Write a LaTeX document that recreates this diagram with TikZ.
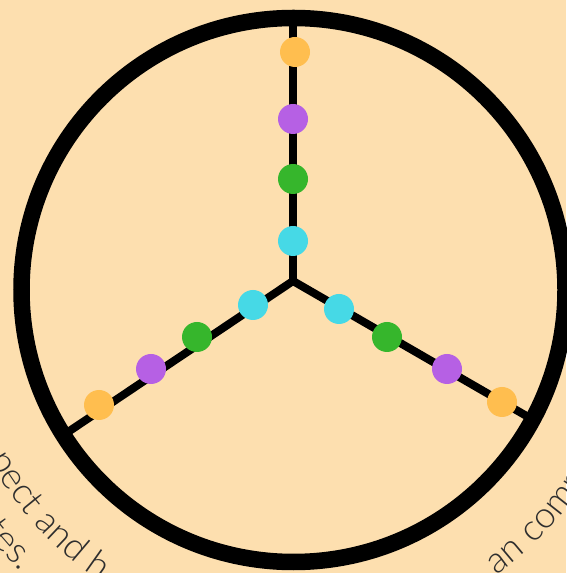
\documentclass[tikz,border=0pt]{standalone}
\usepackage{fontspec}
\usetikzlibrary{decorations.text}
\newfontfamily\labelfont{Lato-Light.ttf}
\definecolor{bgc}{HTML}{FDDFAF}
\definecolor{dorange}{HTML}{FFBE4F}
\definecolor{dpurple}{HTML}{B660E4}
\definecolor{dgreen}{HTML}{36B62C}
\definecolor{dcyan}{HTML}{46D9E6}
\definecolor{ink}{HTML}{2E2E2E}
\tikzset{
  dot/.style={circle, inner sep=0pt, minimum size=30pt, draw=none},
  spoke/.style={line width=8pt, line join=miter, draw=black},
  rim/.style={line width=16.5pt, draw=black},
  ringtext/.style={decorate, decoration={text along path, text align=left,
     text={|\labelfont\fontsize{36.5}{44}\selectfont\color{ink}|#1}}}
}
\begin{document}
\begin{tikzpicture}[x=1pt,y=1pt]
\fill[bgc] (0,0) rectangle (566,573);
\useasboundingbox (0,0) rectangle (566,573);
\coordinate (C) at (293.5,283);
\coordinate (hub) at (293,292);
\coordinate (topend) at (293,563);
\coordinate (leftend) at (65,139);
\coordinate (rightend) at (530,155);
% spokes
\draw[spoke] (leftend) -- (hub) -- (rightend);
\draw[spoke] (topend) -- (hub);
% rim
\draw[rim] (C) circle (272);
% dots top
\node[dot, fill=dorange] (t1) at (295,521) {};
\node[dot, fill=dpurple] (t2) at (293,454) {};
\node[dot, fill=dgreen]  (t3) at (293,394) {};
\node[dot, fill=dcyan]   (t4) at (293,332) {};
% dots left
\node[dot, fill=dcyan]   (l1) at (253,268) {};
\node[dot, fill=dgreen]  (l2) at (197,236) {};
\node[dot, fill=dpurple] (l3) at (151,204) {};
\node[dot, fill=dorange] (l4) at (99,168) {};
% dots right
\node[dot, fill=dcyan]   (r1) at (339,264) {};
\node[dot, fill=dgreen]  (r2) at (387,236) {};
\node[dot, fill=dpurple] (r3) at (447,204) {};
\node[dot, fill=dorange] (r4) at (502,171) {};
% curved texts
\path[ringtext={pect and h}, shift={(C)}] (209.0:349) arc[start angle=209.0, end angle=275, radius=349];
\path[ringtext={tes.}, shift={(C)}] (217.8:392) arc[start angle=217.8, end angle=275, radius=392];
\path[ringtext={an comm}, shift={(C)}] (305.5:350) arc[start angle=305.5, end angle=360, radius=350];
\end{tikzpicture}
\end{document}
